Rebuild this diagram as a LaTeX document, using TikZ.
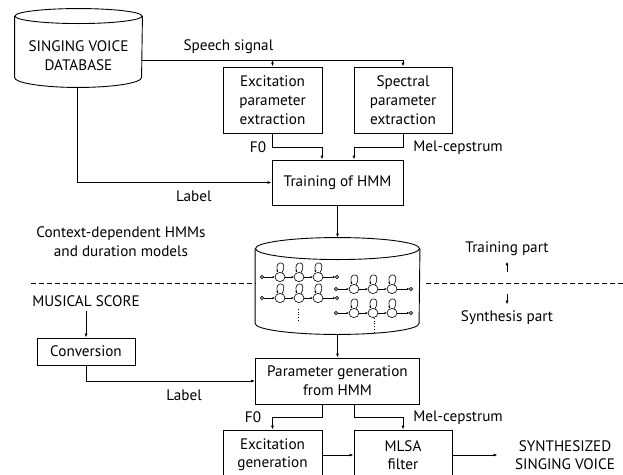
\documentclass[tikz,border=0pt]{standalone}
\usepackage{fontspec}
\setmainfont{PT Sans}
\usetikzlibrary{calc,positioning}
\usetikzlibrary{arrows.meta}

\tikzset{
  box/.style={draw,align=center,inner sep=0pt,minimum width=99pt,minimum height=66pt},
  lbl/.style={inner sep=0pt,align=center},
  flow/.style={-{Latex[length=4pt,width=3pt]}},
  tiny/.style={-{Latex[length=2.4pt,width=2.2pt]},line width=0.6pt}
}

% one left-to-right HMM: entry, three states with self loops, exit
\newcommand\hmmrow[2]{%
  \begin{scope}[shift={(#1,#2)}]
    \draw[line width=0.6pt] (0,0) circle[radius=1.6pt] (75,0) circle[radius=1.6pt];
    \foreach \s in {18,37,56}{
      \draw[line width=0.6pt] (\s,0) ellipse[x radius=5pt,y radius=4.6pt];
      \draw[tiny] (\s+2,-4.3) .. controls (\s+9,-17) and (\s-6,-17) .. (\s-2,-4.4);
    }
    \draw[tiny] (1.6,0)--(13,0);
    \draw[tiny] (23,0)--(32,0);
    \draw[tiny] (42,0)--(51,0);
    \draw[tiny] (61,0)--(73.4,0);
  \end{scope}}

\begin{document}
\begin{tikzpicture}[x=1pt,y=-1pt,line width=0.9pt,font=\fontsize{15.2}{19}\selectfont]
\useasboundingbox (0,0) rectangle (623,474);
\clip (0,0) rectangle (623,474);

% database
\node[lbl,minimum width=127pt,minimum height=63pt] (db) at (78.5,55.5) {SINGING VOICE\\DATABASE};
\draw ([yshift=7.5pt]db.north west)--([yshift=10pt]db.south west)
  arc[start angle=180,end angle=360,x radius=63.5pt,y radius=10pt]--([yshift=7.5pt]db.north east);
\draw ([yshift=7.5pt]db.north) ellipse[x radius=63.5pt,y radius=7.5pt];

\node[box] (exc) at (272.5,100) {Excitation\\parameter\\extraction};
\node[box,minimum width=98pt] (spec) at (403,100) {Spectral\\parameter\\extraction};
\node[box,minimum width=131pt,minimum height=45pt] (train) at (337.5,182.5) {Training of HMM};

\coordinate (sig) at ([yshift=-4.5pt]db.east);
\draw[flow] (sig) -| (spec.north) node[lbl,pos=0.165,above=6pt] {Speech signal};
\draw[flow] (sig -| exc.north)--(exc.north);
\draw[flow] (exc.south)--++(0,14) node[lbl,left=6pt] {F0} -| ([xshift=-15.5pt]train.north);
\draw[flow] (spec.south)--++(0,14) node[lbl,right=10pt] {Mel-cepstrum} -| ([xshift=16.5pt]train.north);
\draw[flow] ([xshift=-1.5pt]db.south) |- (train.west) node[lbl,pos=0.8,below=8pt] {Label};

% context-dependent models
\node[lbl] (ctx) at (121,242) {Context-dependent HMMs\\and duration models};
\node[lbl,minimum width=164pt,minimum height=74pt] (hmm) at (337.5,297) {};
\draw ([yshift=11pt]hmm.north west)--([yshift=11pt]hmm.south west)
  arc[start angle=180,end angle=360,x radius=82pt,y radius=11pt]--([yshift=11pt]hmm.north east);
\draw ([yshift=11pt]hmm.north) ellipse[x radius=82pt,y radius=11pt];
\hmmrow{262}{277}
\hmmrow{262}{298}
\hmmrow{336}{289}
\hmmrow{336}{313}
\draw[dotted,line width=0.7pt] (298,309)--(298,321) (374,318)--(374,332);
\draw[flow] (train.south)--([yshift=22pt]hmm.north);

\draw[dashed,dash pattern=on 5pt off 3pt,line width=0.8pt] (31,283)--(hmm.west |- 0,283) (426,283)--(623,283);
\node[lbl] (trp) at (507,249) {Training part};
\node[lbl] (syp) at (507,318) {Synthesis part};
\draw[flow] ([yshift=-16pt]trp.south)--([yshift=-5pt]trp.south);
\draw[flow] ([yshift=17pt]syp.north)--([yshift=6pt]syp.north);

% synthesis part
\node[lbl,inner sep=4pt] (score) at (86,301) {MUSICAL SCORE};
\node[box,minimum width=98pt,minimum height=27pt] (conv) at (86,351.5) {Conversion};
\node[box,minimum width=164pt,minimum height=46pt] (param) at (337.5,381) {Parameter generation\\from HMM};
\node[box,minimum height=50pt,font=\fontsize{15.2}{18}\selectfont] (excg) at (272.5,455) {Excitation\\generation};
\node[box,minimum width=98pt,minimum height=50pt,font=\fontsize{15.2}{18}\selectfont] (mlsa) at (403,455) {MLSA\\filter};
\node[lbl,inner xsep=17pt,font=\fontsize{15.2}{18}\selectfont] (out) at (565,455) {SYNTHESIZED\\SINGING VOICE};

\draw[flow] (score.south)--(conv.north);
\draw[flow] (conv.south) |- (param.west) node[lbl,pos=0.79,below=8pt] {Label};
\draw[flow] (hmm.south)--(param.north);
\draw[flow] ([xshift=-15.5pt]param.south)--++(0,13) -| (excg.north) node[lbl,pos=0.5,left=11pt] {F0};
\draw[flow] ([xshift=16.5pt]param.south)--++(0,13) -| (mlsa.north) node[lbl,pos=0.5,right=10pt] {Mel-cepstrum};
\draw[flow] (excg.east)--(mlsa.west);
\draw[flow] (mlsa.east)--(out.west);
\end{tikzpicture}
\end{document}
